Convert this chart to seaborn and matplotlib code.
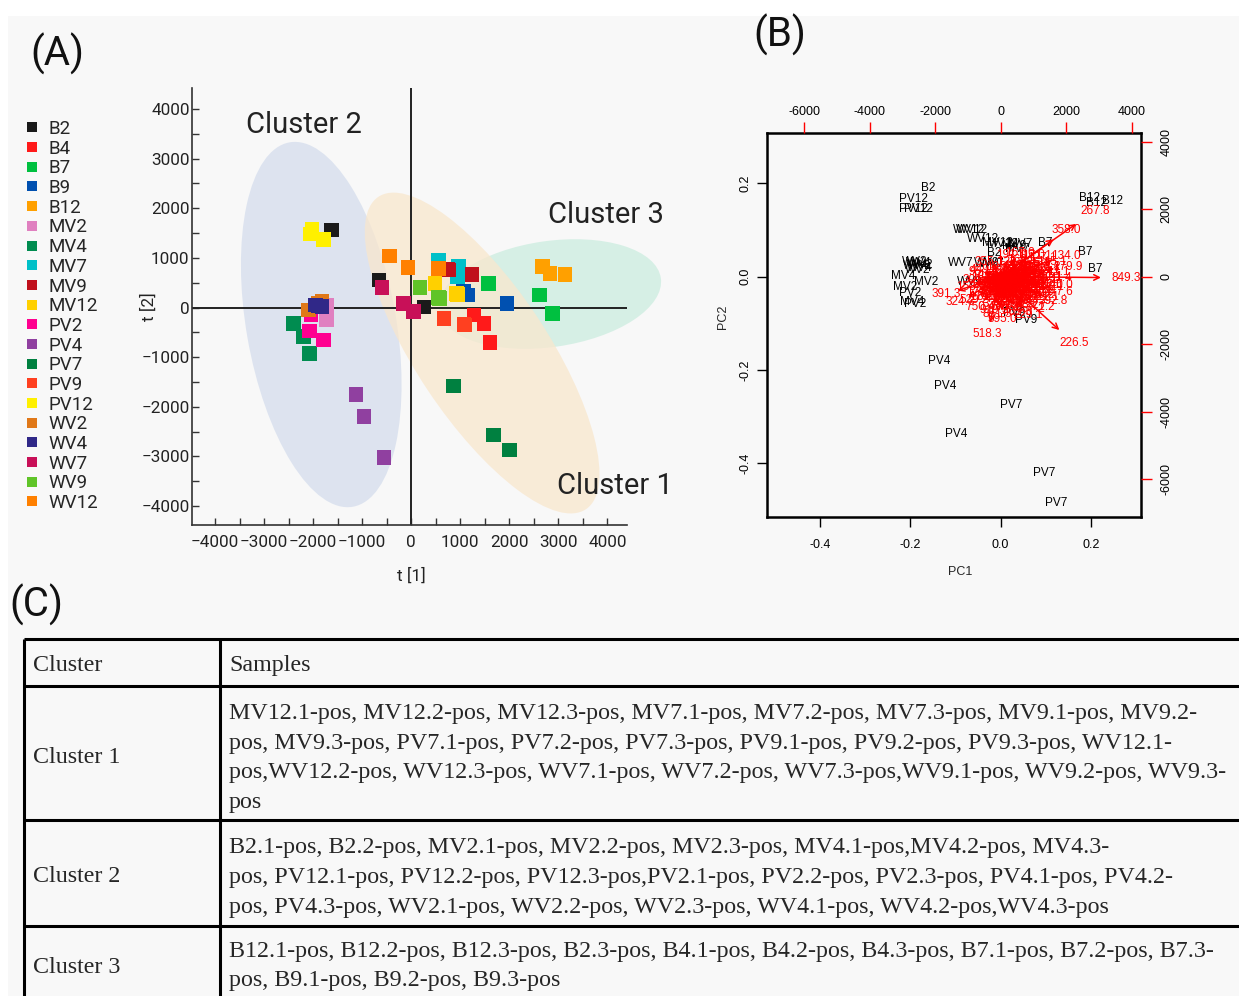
import matplotlib
matplotlib.use('Agg')
import matplotlib.pyplot as plt
import numpy as np
import pandas as pd
import seaborn as sns
from matplotlib.patches import Ellipse, Rectangle
from matplotlib.lines import Line2D
from matplotlib.ticker import MultipleLocator

# ---- (A) OPLS-DA score plot: 20 groups, three replicates each ----
groups = ['B2', 'B4', 'B7', 'B9', 'B12', 'MV2', 'MV4', 'MV7', 'MV9', 'MV12',
          'PV2', 'PV4', 'PV7', 'PV9', 'PV12', 'WV2', 'WV4', 'WV7', 'WV9', 'WV12']
group_colors = ['#1a1a1a', '#ff1a1a', '#00c040', '#0050b0', '#ffa000',
                '#e080c0', '#008c50', '#00c0c8', '#c0101c', '#ffd000',
                '#ff0090', '#9040a0', '#008040', '#ff4020', '#fff000',
                '#e07818', '#302888', '#c81058', '#60c428', '#ff8000']

score_t1 = [-1630, -652, 258, 1284, 1487, 1610, 1575, 2614, 2879, 1066, 1147, 1950,
            2683, 2832, 3138, -1732, -1820, -1718, -2398, -2194, -2072, 964, 943, 556,
            740, 1236, 760, 489, 943, 920, -2044, -2072, -1787, -1121, -958, -557,
            862, 1677, 2003, 672, 1073, 1090, -2058, -2024, -1786, -2092, -1820, -1888,
            -1956, -1820, -1888, -597, -157, 47, 183, 577, 560, -442, -67, 556]
score_t2 = [1561, 554, 10, -151, -318, -701, 488, 252, -117, 318, 252, 85,
            822, 689, 668, -238, 117, 50, -318, -588, -923, 822, 621, 957,
            776, 669, 760, 488, 266, 280, -151, -474, -655, -1749, -2200, -3026,
            -1582, -2569, -2871, -218, -339, -350, 1481, 1575, 1373, -50, 117, 84,
            50, 16, 30, 399, 85, -85, 399, 185, 200, 1038, 810, 790]
score_group = [g for g in groups for _ in range(3)]

cluster_names = ['Cluster 1', 'Cluster 2', 'Cluster 3']

# ---- (B) PCA biplot ----
sample_label = ['B2', 'PV12', 'PV12', 'PV12', 'WV12', 'WV12', 'WV12', 'MV12', 'MV12',
                'MV9', 'MV7', 'MV7', 'B7', 'B2', 'WV7', 'WV9', 'WV7', 'B7', 'B7',
                'B12', 'B12', 'B12', 'WV2', 'WV4', 'WV2', 'WV4', 'WV2', 'WV4',
                'MV4', 'MV2', 'MV2', 'PV2', 'MV4', 'PV2', 'WV9', 'PV9', 'PV9',
                'PV4', 'PV4', 'PV4', 'PV7', 'PV7', 'PV7']
sample_pc1 = [-0.160, -0.193, -0.192, -0.182, -0.070, -0.063, -0.038, -0.006, 0.004,
              0.030, 0.043, 0.036, 0.098, -0.015, -0.089, -0.030, -0.020, 0.187, 0.209,
              0.198, 0.213, 0.249, -0.190, -0.182, -0.176, -0.188, -0.184, -0.178,
              -0.215, -0.165, -0.212, -0.201, -0.196, -0.190, -0.068, 0.030, 0.056,
              -0.136, -0.123, -0.099, 0.024, 0.097, 0.123]
sample_pc2 = [0.191, 0.166, 0.146, 0.146, 0.101, 0.101, 0.081, 0.072, 0.070,
              0.066, 0.070, 0.060, 0.073, 0.051, 0.029, 0.029, 0.028, 0.052, 0.016,
              0.168, 0.157, 0.162, 0.032, 0.030, 0.025, 0.022, 0.014, 0.018,
              0.002, -0.011, -0.021, -0.034, -0.055, -0.058, -0.012, -0.077, -0.093,
              -0.181, -0.234, -0.337, -0.275, -0.421, -0.484]

load_label = ['849.3', '267.8', '358.0', '226.5', '518.3', '391.3', '324.3', '750.4',
              '595.0', '229.1', '392.8', '447.6', '131.4', '140.0', '279.9', '134.0', '95.1',
              '153.0', '301.1', '177.1', '449.1', '285.1', '611.2', '163.1', '465.1', '325.2', '303.1',
              '195.1', '433.1', '579.2', '147.1', '317.1', '355.2', '121.0', '289.1', '627.2', '137.0',
              '431.2', '209.1', '169.1', '341.1', '481.2', '219.1', '371.1', '113.0', '249.1', '593.2',
              '185.1', '275.1', '457.1', '231.1', '127.1', '319.1', '611.1', '203.1', '261.1', '401.1',
              '145.1', '771.2', '529.2', '919.3', '465.3', '657.2', '191.1', '167.0', '355.1', '243.1',
              '179.1', '287.1', '339.2', '415.1', '523.2', '233.1', '363.1', '455.2', '301.2', '267.1',
              '189.0', '349.1', '571.2', '273.1', '511.2', '161.1', '443.2', '215.1', '157.1', '225.1',
              '381.1', '205.1', '313.2', '427.2', '259.1', '183.1', '347.2', '469.2', '199.1', '539.2',
              '409.1', '281.2', '253.1', '417.2', '489.2', '295.1', '643.2', '703.3', '851.3', '171.1']
load_x = [3827, 2880, 2015, 2239, -407, -1649, -1242, -631, 51, 845, 1608, 1761, 1710, 1740,
          2046, 1995, -630,
          -900, -700, -600, -500, -400, -300, -250, -150, -100, 0,
          0, 100, 150, 200, 250, 300, 350, 400, 450, 500,
          550, 600, 650, 700, 750, 800, 850, 900, 950, 1000,
          1050, 1100, 1150, 1200, 1250, 1300, 1350, 1400, 1450, 1500,
          1550, 1200, -800, -200, 500, 900, 300, 600, -350, 1650,
          -500, -350, -200, -50, 50, 150, 250, 350, 450, 550,
          650, 750, 850, 950, 1050, 1150, 1250, 1350, 100, 300,
          500, 700, 900, 1100, -600, -450, -300, -150, 0, 200,
          400, 600, 800, 1000, 1200, 1400, 700, 300, -100, 1100]
load_y = [-30, 1956, 1383, -1975, -1699, -514, -760, -889, -1264, -1136, -711, -444, -49, -240,
          296, 622, 148,
          -300, -100, -450, 200, -250, -600, 50, -350, -800, -150,
          300, -500, -900, 100, -300, -650, 450, -100, -450, 200,
          -800, -250, 500, 0, -550, 300, -300, 650, 50, -700,
          400, -200, -450, 150, 550, -100, -600, 300, 0, -300,
          450, -900, -700, -1000, -1050, -950, 650, 700, 450, 150,
          -600, -150, -500, -650, -350, -100, -550, -250, -700, -400,
          -150, -350, -600, -250, -500, 50, -300, 200, 150, 200,
          -50, 250, -50, 250, -250, 0, -400, -150, -450, -750,
          -400, -600, -150, -400, -550, -250, -850, -900, -1100, 600]

# ---- (C) cluster membership table ----
table_header = ['Cluster', 'Samples']
cluster1_samples = [
    'MV12.1-pos, MV12.2-pos, MV12.3-pos, MV7.1-pos, MV7.2-pos, MV7.3-pos, MV9.1-pos, MV9.2-',
    'pos, MV9.3-pos, PV7.1-pos, PV7.2-pos, PV7.3-pos, PV9.1-pos, PV9.2-pos, PV9.3-pos, WV12.1-',
    'pos,WV12.2-pos, WV12.3-pos, WV7.1-pos, WV7.2-pos, WV7.3-pos,WV9.1-pos, WV9.2-pos, WV9.3-',
    'pos']
cluster2_samples = [
    'B2.1-pos, B2.2-pos, MV2.1-pos, MV2.2-pos, MV2.3-pos, MV4.1-pos,MV4.2-pos, MV4.3-',
    'pos, PV12.1-pos, PV12.2-pos, PV12.3-pos,PV2.1-pos, PV2.2-pos, PV2.3-pos, PV4.1-pos, PV4.2-',
    'pos, PV4.3-pos, WV2.1-pos, WV2.2-pos, WV2.3-pos, WV4.1-pos, WV4.2-pos,WV4.3-pos']
cluster3_samples = [
    'B12.1-pos, B12.2-pos, B12.3-pos, B2.3-pos, B4.1-pos, B4.2-pos, B4.3-pos, B7.1-pos, B7.2-pos, B7.3-',
    'pos, B9.1-pos, B9.2-pos, B9.3-pos']

sns.set_style('ticks')
plt.rcParams['font.family'] = ['Roboto', 'DejaVu Sans']
plt.rcParams['axes.unicode_minus'] = True

W, H = 1239, 996
BG = '#f8f8f8'


def frac(x0, y0, x1, y1):
    """pixel box (left, top, right, bottom) -> figure rect"""
    return [x0 / W, 1 - y1 / H, (x1 - x0) / W, (y1 - y0) / H]


fig = plt.figure(figsize=(W / 100, H / 100), dpi=100, facecolor=BG)
fig.patches.append(Rectangle((0, 1 - 16 / H), 1, 16 / H, transform=fig.transFigure,
                             facecolor='white', edgecolor='none'))
fig.patches.append(Rectangle((0, 0), 8 / W, 1, transform=fig.transFigure,
                             facecolor='white', edgecolor='none'))

# ================= (A) =================
ax = fig.add_axes(frac(191.7, 88, 626.7, 525))
ax.patch.set_alpha(0)
ax.set_xlim(-4476, 4395)
ax.set_ylim(-4382, 4423)

# cluster ellipses (centre, width, height, angle, colour)
ax.add_patch(Ellipse((-1834, -343), 3056, 7455, angle=10, facecolor='#d4dded',
                     alpha=0.75, edgecolor='none', zorder=0, clip_on=False))
ax.add_patch(Ellipse((2832, 272), 4564, 2136, angle=8, facecolor='#cbeddf',
                     alpha=0.75, edgecolor='none', zorder=0, clip_on=False))
ax.add_patch(Ellipse((1447, -917), 7586, 2677, angle=-56, facecolor='#f9e7cd',
                     alpha=0.75, edgecolor='none', zorder=0, clip_on=False))

ax.axhline(0, color='#222222', lw=1.4, zorder=2)
ax.axvline(0, color='#222222', lw=1.4, zorder=2)

scores = pd.DataFrame({'t1': score_t1, 't2': score_t2, 'group': score_group})
sns.scatterplot(data=scores, x='t1', y='t2', hue='group', hue_order=groups,
                palette=group_colors, marker='s', s=110, linewidth=0,
                legend=False, ax=ax, zorder=3)

for s in ['top', 'right']:
    ax.spines[s].set_visible(False)
for s in ['left', 'bottom']:
    ax.spines[s].set_color('#333333')
    ax.spines[s].set_linewidth(1.2)
ax.xaxis.set_major_locator(MultipleLocator(1000))
ax.xaxis.set_minor_locator(MultipleLocator(500))
ax.yaxis.set_major_locator(MultipleLocator(1000))
ax.yaxis.set_minor_locator(MultipleLocator(500))
ax.tick_params(which='both', direction='in', length=5, width=1, colors='#333333')
ax.tick_params(axis='x', labelsize=12.3, pad=7, labelcolor='#222222')
ax.tick_params(axis='y', labelsize=12.3, pad=1.5, labelcolor='#222222')
ax.set_xlabel('t [1]', fontsize=12.3, color='#222222')
ax.set_ylabel('t [2]', fontsize=12.3, color='#222222')
ax.xaxis.set_label_coords(0.504, -0.098)
ax.yaxis.set_label_coords(-0.080, 0.499)

ax.text(4157, -3597, cluster_names[0], fontsize=21, ha='center', va='center', color='#222222')
ax.text(-2180, 3677, cluster_names[1], fontsize=21, ha='center', va='center', color='#222222')
ax.text(3973, 1864, cluster_names[2], fontsize=21, ha='center', va='center', color='#222222',
        clip_on=False)

handles = [Line2D([], [], marker='s', ls='', color=c, markersize=7.2, markeredgewidth=0)
           for c in group_colors]
fig.legend(handles, groups, loc='upper left', bbox_to_anchor=(24.5 / W, 1 - 120 / H),
           frameon=False, fontsize=13.5, handlelength=0.8, handletextpad=0.5,
           labelspacing=0.09, borderpad=0, borderaxespad=0)

# ================= (B) =================
sans = ['Liberation Sans', 'DejaVu Sans']
box = frac(767, 133, 1141, 517)
axb = fig.add_axes(box)
axb.patch.set_alpha(0)
axb.set_xlim(-0.517, 0.311)
axb.set_ylim(-0.515, 0.308)
for s in axb.spines.values():
    s.set_color('black')
    s.set_linewidth(1.8)
pc_ticks = [-0.4, -0.2, 0.0, 0.2]
pc_ticklabels = ['-0.4', '-0.2', '0.0', '0.2']
axb.set_xticks(pc_ticks, pc_ticklabels, fontfamily=sans, fontsize=9)
axb.set_yticks(pc_ticks, pc_ticklabels, fontfamily=sans, fontsize=9, rotation=90, va='center')
axb.tick_params(direction='out', length=7.5, width=1, colors='black')
axb.tick_params(axis='x', pad=8)
axb.tick_params(axis='y', pad=4)
axb.set_xlabel('PC1', fontfamily=sans, fontsize=9)
axb.set_ylabel('PC2', fontfamily=sans, fontsize=9)
axb.xaxis.set_label_coords((960 - 767) / 374, -(566 - 517) / 384)
axb.yaxis.set_label_coords(-(767 - 729) / 374, (517 - 317) / 384)

for lab, x, y in zip(sample_label, sample_pc1, sample_pc2):
    axb.text(x, y, lab, fontsize=8.5, fontfamily=sans, ha='center', va='center', color='black')

axl = fig.add_axes(box, frameon=False)
axl.patch.set_alpha(0)
axl.set_xlim(-7136, 4284)
axl.set_ylim(-7120, 4258)
axl.xaxis.tick_top()
axl.yaxis.tick_right()
load_ticks = [-6000, -4000, -2000, 0, 2000, 4000]
axl.set_xticks(load_ticks, [str(t) for t in load_ticks], fontfamily=sans, fontsize=9)
axl.set_yticks(load_ticks, [str(t) for t in load_ticks], fontfamily=sans, fontsize=9,
               rotation=90, va='center')
axl.tick_params(direction='out', length=8, width=1, colors='red', labelcolor='black')
axl.tick_params(axis='x', pad=3)
axl.tick_params(axis='y', pad=6)

for lab, x, y in zip(load_label, load_x, load_y):
    axl.annotate('', xy=(0.8 * x, 0.8 * y), xytext=(0, 0),
                 arrowprops=dict(arrowstyle='->', color='red', lw=1.1, shrinkA=0, shrinkB=0,
                                 mutation_scale=10))
    axl.text(x, y, lab, fontsize=8.5, fontfamily=sans, ha='center', va='center', color='red')

# ================= panel letters =================
fig.text(57 / W, 1 - 54 / H, '(A)', fontsize=29, ha='center', va='center', color='#111111')
fig.text(780 / W, 1 - 35 / H, '(B)', fontsize=29, ha='center', va='center', color='#111111')
fig.text(36 / W, 1 - 605 / H, '(C)', fontsize=29, ha='center', va='center', color='#111111')

# ================= (C) table =================
serif = ['Liberation Serif', 'DejaVu Serif']
axt = fig.add_axes([0, 0, 1, 1])
axt.set_xlim(0, W)
axt.set_ylim(H, 0)
axt.axis('off')
axt.patch.set_alpha(0)

lw_t = 2.2
for yl in [639.3, 686, 820, 926]:
    axt.plot([23.5, W], [yl, yl], color='black', lw=lw_t, solid_capstyle='butt')
for xl in [23.5, 220]:
    axt.plot([xl, xl], [639.3, H], color='black', lw=lw_t, solid_capstyle='butt')

tfs = 17.3
axt.text(33, 671, table_header[0], fontsize=tfs, fontfamily=serif, va='baseline')
axt.text(229, 671, table_header[1], fontsize=tfs, fontfamily=serif, va='baseline')

row_label_base = [762.7, 881.7, 972.7]
row_first_base = [719, 853.3, 956.7]
row_lines = [cluster1_samples, cluster2_samples, cluster3_samples]
for name, yb, y0, lines in zip(cluster_names, row_label_base, row_first_base, row_lines):
    axt.text(33, yb, name, fontsize=tfs, fontfamily=serif, va='baseline')
    for i, line in enumerate(lines):
        axt.text(229, y0 + i * 29.6, line, fontsize=tfs, fontfamily=serif, va='baseline')

fig.savefig('out.png', dpi=100, facecolor=fig.get_facecolor())
